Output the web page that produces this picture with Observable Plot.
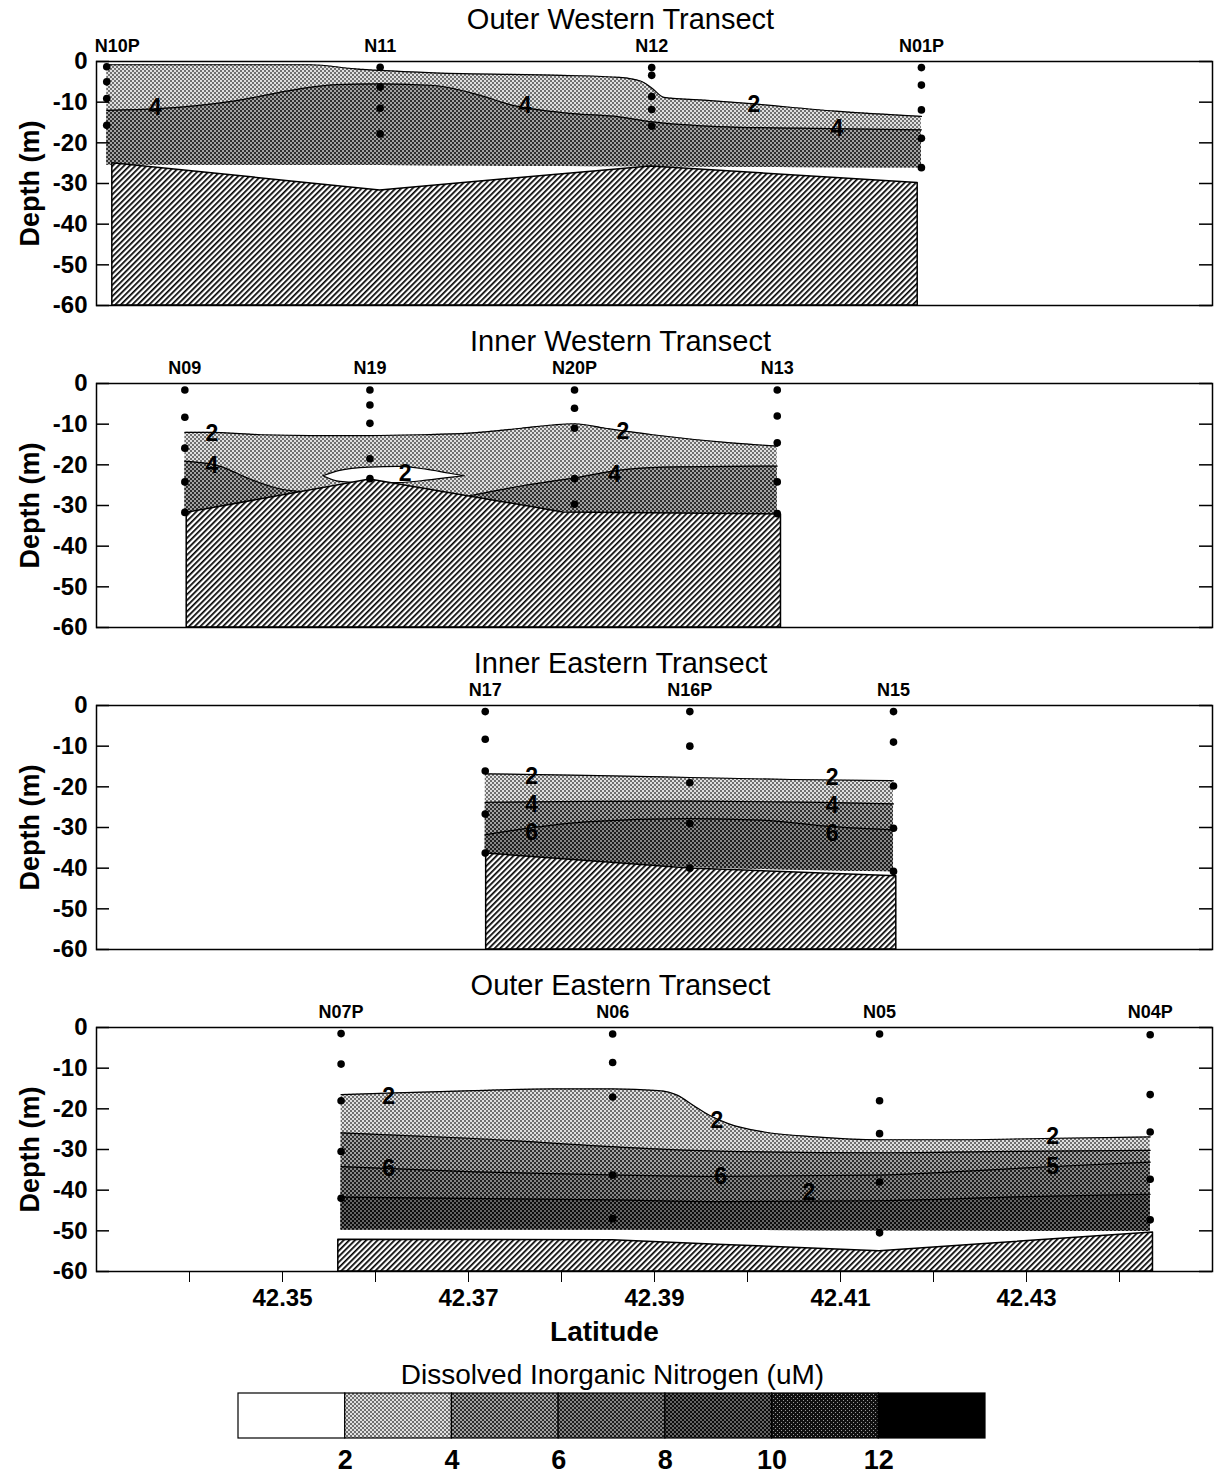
<!DOCTYPE html>
<html>
<head>
<meta charset="utf-8">
<script src="https://cdn.jsdelivr.net/npm/d3@7"></script>
<script src="https://cdn.jsdelivr.net/npm/@observablehq/plot@0.6"></script>
<style>
  body { margin: 0; background: #fff; font-family: "Liberation Sans", Arial, sans-serif; color: #000; }
  #fig { width: 1225px; }
  #fig svg { display: block; }
  .ttl { height: 34px; box-sizing: border-box; padding-top: 5px; padding-left: 16px;
         font-size: 29px; line-height: 29px; text-align: center; }
  .legend-ttl { height: 34px; box-sizing: border-box; padding-top: 10px; padding-left: 0;
         font-size: 28px; line-height: 28px; text-align: center; overflow: visible; }
</style>
</head>
<body>
<!-- halftone shades for the nitrogen classes and hatching for the seabed -->
<svg width="0" height="0" style="position:absolute">
  <defs>
    <pattern id="din0" width="4" height="4" patternUnits="userSpaceOnUse">
      <rect width="4" height="4" fill="#ffffff"/>
    </pattern>
    <pattern id="din2" width="4" height="4" patternUnits="userSpaceOnUse">
      <rect width="4" height="4" fill="#e0e0e0"/>
      <rect width="2" height="2" fill="#707070"/><rect x="2" y="2" width="2" height="2" fill="#707070"/>
    </pattern>
    <pattern id="din4" width="4" height="4" patternUnits="userSpaceOnUse">
      <rect width="4" height="4" fill="#a2a2a2"/>
      <rect width="2" height="2" fill="#2e2e2e"/><rect x="2" y="2" width="2" height="2" fill="#2e2e2e"/>
    </pattern>
    <pattern id="din6" width="4" height="4" patternUnits="userSpaceOnUse">
      <rect width="4" height="4" fill="#868686"/>
      <rect width="2" height="2" fill="#1e1e1e"/><rect x="2" y="2" width="2" height="2" fill="#1e1e1e"/>
    </pattern>
    <pattern id="din8" width="4" height="4" patternUnits="userSpaceOnUse">
      <rect width="4" height="4" fill="#646464"/>
      <rect width="2" height="2" fill="#0c0c0c"/><rect x="2" y="2" width="2" height="2" fill="#0c0c0c"/>
    </pattern>
    <pattern id="din10" width="4" height="4" patternUnits="userSpaceOnUse">
      <rect width="4" height="4" fill="#101010"/>
      <rect x="1" y="1" width="1" height="1" fill="#9a9a9a"/><rect x="3" y="3" width="1" height="1" fill="#9a9a9a"/>
    </pattern>
    <pattern id="din12" width="4" height="4" patternUnits="userSpaceOnUse">
      <rect width="4" height="4" fill="#000000"/>
    </pattern>
    <pattern id="seabed" width="4" height="4" patternUnits="userSpaceOnUse" patternTransform="rotate(45)">
      <rect width="4" height="4" fill="#ffffff"/>
      <rect width="1.7" height="4" fill="#000000"/>
    </pattern>
  </defs>
</svg>

<div id="fig"></div>

<script>
// ---- axes ----
const depthTicks = [0, -10, -20, -30, -40, -50, -60];
const latTicks = [42.34, 42.35, 42.36, 42.37, 42.38, 42.39, 42.40, 42.41, 42.42, 42.43, 42.44];
const latTickLabels = [42.35, 42.37, 42.39, 42.41, 42.43];

// ---- dissolved inorganic nitrogen classes (uM) ----
const dinClassLow = [0, 2, 4, 6, 8, 10, 12];
const dinClassHigh = [2, 4, 6, 8, 10, 12, 14];
const dinLegendTicks = [2, 4, 6, 8, 10, 12];

// ---- Outer Western Transect ----
const owStations = ["N10P", "N11", "N12", "N01P"];
const owLat = [42.3311, 42.3605, 42.3897, 42.4187];
const owSamples = [
  [-1.3, -5.0, -9.1, -15.7],
  [-1.4, -6.3, -11.5, -17.8],
  [-1.5, -3.4, -8.6, -11.8, -15.9],
  [-1.5, -5.8, -11.9, -18.9, -26.1]
];
// [latitude, upper isoline depth, lower limit depth]
const owBand2 = [
  [42.3311, -0.8, -25.5], [42.3530, -0.8, -25.6], [42.3578, -1.8, -25.6], [42.3605, -2.2, -25.6],
  [42.3663, -2.8, -25.7], [42.3800, -3.4, -25.8], [42.3862, -3.9, -25.9], [42.3885, -4.8, -25.9],
  [42.3897, -6.5, -25.9], [42.3910, -8.8, -26.0], [42.3960, -9.6, -26.0], [42.4000, -10.3, -26.0],
  [42.4094, -12.2, -26.1], [42.4187, -13.5, -26.2]
];
const owBand4 = [
  [42.3311, -12.0, -25.5], [42.3366, -11.6, -25.5], [42.3451, -9.6, -25.6], [42.3514, -6.9, -25.6],
  [42.3557, -5.7, -25.6], [42.3605, -5.5, -25.6], [42.3663, -5.9, -25.7], [42.3706, -7.9, -25.7],
  [42.3748, -10.8, -25.8], [42.3812, -12.8, -25.8], [42.3862, -13.6, -25.9], [42.3896, -14.8, -25.9],
  [42.3968, -16.0, -26.0], [42.4052, -16.4, -26.1], [42.4187, -16.8, -26.2]
];
const owSeabed = [[42.3317, -25.0], [42.3605, -31.7], [42.3896, -25.8], [42.4183, -29.9]];
const owLabels = [[42.3363, -11.3, "4"], [42.3761, -10.9, "4"], [42.4007, -10.6, "2"], [42.4096, -16.4, "4"]];

// ---- Inner Western Transect ----
const iwStations = ["N09", "N19", "N20P", "N13"];
const iwLat = [42.3395, 42.3594, 42.3814, 42.4032];
const iwSamples = [
  [-1.6, -8.3, -15.9, -24.2, -31.7],
  [-1.6, -5.3, -9.8, -18.5, -23.4],
  [-1.6, -6.1, -11.0, -23.4, -29.7],
  [-1.6, -8.0, -14.6, -24.2, -32.0]
];
const iwBand2 = [
  [42.3395, -12.0, -31.7], [42.3421, -12.0, -30.7], [42.3477, -12.6, -28.4], [42.3530, -12.8, -26.2],
  [42.3594, -12.8, -23.6], [42.3650, -12.6, -25.8], [42.3701, -12.2, -27.8], [42.3757, -11.0, -29.9],
  [42.3791, -10.2, -31.3], [42.3814, -9.9, -31.7], [42.3847, -11.0, -31.8], [42.3898, -12.6, -31.9],
  [42.3982, -14.6, -32.1], [42.4032, -15.4, -32.2]
];
const iwBand4West = [
  [42.3395, -19.1, -31.7], [42.3432, -20.3, -30.3], [42.3466, -23.6, -28.9], [42.3499, -26.0, -27.6],
  [42.3524, -26.6, -26.7]
];
const iwBand4East = [
  [42.3701, -27.6, -27.8], [42.3757, -25.2, -29.9], [42.3814, -23.2, -31.7], [42.3870, -21.1, -31.8],
  [42.3926, -20.5, -32.0], [42.4032, -20.3, -32.2]
];
// pocket below 2 uM near N19
const iwPocket = [
  [42.3544, -22.8, -22.8], [42.3562, -21.5, -24.2], [42.3594, -20.7, -24.6], [42.3625, -20.5, -24.5],
  [42.3655, -21.2, -23.9], [42.3680, -22.2, -23.2], [42.3696, -22.8, -22.8]
];
const iwSeabed = [[42.3397, -31.8], [42.3594, -23.6], [42.3802, -31.7], [42.4036, -32.2]];
const iwLabels = [[42.3424, -12.4, "2"], [42.3424, -20.3, "4"], [42.3632, -22.1, "2"], [42.3866, -11.8, "2"], [42.3857, -22.4, "4"]];

// ---- Inner Eastern Transect ----
const ieStations = ["N17", "N16P", "N15"];
const ieLat = [42.3718, 42.3938, 42.4157];
const ieSamples = [
  [-1.5, -8.3, -16.1, -26.7, -36.3],
  [-1.5, -10.0, -19.0, -29.0, -40.0],
  [-1.5, -9.0, -19.8, -30.2, -40.8]
];
const ieBand2 = [
  [42.3718, -16.8, -36.3], [42.3826, -17.2, -38.2], [42.3938, -17.7, -39.8], [42.4047, -18.2, -40.4],
  [42.4157, -18.5, -40.9]
];
const ieBand4 = [
  [42.3718, -23.8, -36.3], [42.3826, -23.6, -38.2], [42.3938, -23.5, -39.8], [42.4078, -23.8, -40.6],
  [42.4157, -24.2, -40.9]
];
const ieBand6 = [
  [42.3718, -31.8, -36.3], [42.3763, -30.2, -37.1], [42.3826, -28.6, -38.2], [42.3938, -27.8, -39.8],
  [42.4015, -28.2, -40.3], [42.4091, -29.8, -40.7], [42.4157, -30.6, -40.9]
];
const ieSeabed = [[42.3719, -36.4], [42.3938, -40.1], [42.4160, -42.0]];
const ieLabels = [[42.3768, -17.5, "2"], [42.3768, -24.3, "4"], [42.3768, -31.3, "6"],
                  [42.4091, -17.8, "2"], [42.4091, -24.6, "4"], [42.4091, -31.4, "6"]];

// ---- Outer Eastern Transect ----
const oeStations = ["N07P", "N06", "N05", "N04P"];
const oeLat = [42.3563, 42.3855, 42.4142, 42.4433];
const oeSamples = [
  [-1.5, -9.0, -18.0, -30.5, -42.0],
  [-1.6, -8.6, -17.1, -36.3, -47.0],
  [-1.6, -18.0, -26.1, -38.0, -50.5],
  [-1.8, -16.5, -25.7, -37.3, -47.3]
];
const oeBand2 = [
  [42.3563, -16.5, -49.8], [42.3621, -16.1, -49.8], [42.3706, -15.5, -49.8], [42.3790, -15.1, -49.8],
  [42.3855, -15.1, -49.8], [42.3904, -15.5, -49.8], [42.3925, -16.7, -49.8], [42.3942, -19.2, -49.8],
  [42.3959, -21.6, -49.8], [42.3980, -23.7, -49.9], [42.4018, -25.7, -49.9], [42.4073, -26.9, -49.9],
  [42.4142, -27.6, -50.0], [42.4221, -27.6, -50.0], [42.4318, -27.3, -50.1], [42.4433, -26.9, -50.1]
];
const oeBand4 = [
  [42.3563, -25.9, -49.8], [42.3706, -27.3, -49.8], [42.3862, -29.4, -49.8], [42.3968, -30.4, -49.9],
  [42.4142, -30.8, -50.0], [42.4263, -30.5, -50.0], [42.4433, -30.2, -50.1]
];
const oeBand6 = [
  [42.3563, -34.2, -49.8], [42.3706, -35.5, -49.8], [42.3862, -36.3, -49.8], [42.3968, -36.6, -49.9],
  [42.4142, -36.3, -50.0], [42.4221, -35.5, -50.0], [42.4318, -34.3, -50.1], [42.4433, -33.1, -50.1]
];
const oeBand8 = [
  [42.3563, -41.7, -49.8], [42.3855, -42.4, -49.8], [42.3968, -42.8, -49.9], [42.4142, -42.6, -50.0],
  [42.4300, -41.6, -50.1], [42.4433, -41.0, -50.1]
];
const oeSeabed = [[42.3560, -52.2], [42.3855, -52.3], [42.3968, -53.4], [42.4142, -55.0], [42.4263, -53.1], [42.4436, -50.4]];
const oeLabels = [[42.3614, -16.9, "2"], [42.3614, -34.6, "6"], [42.3967, -22.9, "2"], [42.3971, -36.6, "6"],
                  [42.4066, -40.5, "2"], [42.4328, -26.8, "2"], [42.4328, -34.2, "5"]];

// ---- layout ----
const W = 1225, ML = 96, MR = 13, MT = 27, FRAME_H = 244;
const FRAME_W = W - ML - MR;
const LAT_DOMAIN = [42.33, 42.45];
const FONT = "'Liberation Sans', Arial, sans-serif";
const fig = document.getElementById("fig");

function transect({title, stations, lats, samples, bands, pockets = [], seabed, labels, showX = false}) {
  const t = document.createElement("div");
  t.className = "ttl";
  t.textContent = title;
  fig.appendChild(t);

  const stationRows = stations.map((name, i) => ({name, lat: lats[i]}));
  // a station right at the western edge gets its name pushed inside the frame
  const nearEdge = d => d.lat - LAT_DOMAIN[0] < 0.002;
  const sampleRows = samples.flatMap((depths, i) => depths.map(depth => ({lat: lats[i], depth})));

  const marks = [];
  // concentration classes, painted shallow isoline first
  for (const b of bands) {
    marks.push(Plot.areaY(b.rows, {x: d => d[0], y1: d => d[1], y2: d => d[2],
      fill: `url(#din${b.level})`, curve: "monotone-x"}));
    marks.push(Plot.line(b.rows, {x: d => d[0], y: d => d[1], stroke: "black", strokeWidth: 1.2, curve: "monotone-x"}));
  }
  for (const p of pockets) {
    marks.push(Plot.areaY(p, {x: d => d[0], y1: d => d[1], y2: d => d[2], fill: "white",
      stroke: "black", strokeWidth: 1.2, curve: "monotone-x"}));
  }
  // seabed
  marks.push(Plot.areaY(seabed, {x: d => d[0], y1: d => d[1], y2: () => -60,
    fill: "url(#seabed)", stroke: "black", strokeWidth: 1.5}));
  // frame and inward ticks on both sides
  marks.push(Plot.frame({stroke: "black", strokeWidth: 1.5}));
  marks.push(Plot.tickY(depthTicks, {y: d => d, stroke: "black", strokeWidth: 1.5, insetRight: FRAME_W - 13}));
  marks.push(Plot.tickY(depthTicks, {y: d => d, stroke: "black", strokeWidth: 1.5, insetLeft: FRAME_W - 13}));
  // sampling depths
  marks.push(Plot.dot(sampleRows, {x: "lat", y: "depth", r: 3.8, fill: "black", stroke: "none"}));
  // isoline labels
  marks.push(Plot.text(labels, {x: d => d[0], y: d => d[1], text: d => d[2], fontSize: 23, fontWeight: "bold"}));
  // station names
  marks.push(Plot.text(stationRows.filter(d => !nearEdge(d)), {x: "lat", text: "name", frameAnchor: "top",
    lineAnchor: "middle", dy: -15, fontSize: 18, fontWeight: "bold"}));
  marks.push(Plot.text(stationRows.filter(nearEdge), {x: "lat", text: "name", frameAnchor: "top",
    lineAnchor: "middle", textAnchor: "start", dx: -12, dy: -15, fontSize: 18, fontWeight: "bold"}));
  // depth axis title
  marks.push(Plot.text(["Depth (m)"], {frameAnchor: "left", textAnchor: "middle", lineAnchor: "middle",
    rotate: -90, dx: -66, fontSize: 27, fontWeight: "bold"}));
  if (showX) {
    marks.push(Plot.text(["Latitude"], {frameAnchor: "bottom", textAnchor: "middle", lineAnchor: "middle",
      dx: -50, dy: 61, fontSize: 28, fontWeight: "bold"}));
  }

  const svg = Plot.plot({
    width: W,
    height: MT + FRAME_H + (showX ? 80 : 17),
    marginLeft: ML, marginRight: MR, marginTop: MT, marginBottom: showX ? 80 : 17,
    style: {fontFamily: FONT, fontSize: "24px", fontWeight: "bold", color: "black", background: "white", overflow: "visible"},
    x: showX
      ? {domain: LAT_DOMAIN, ticks: latTicks, tickSize: 11, tickPadding: 6, label: null,
         tickFormat: d => latTickLabels.some(v => Math.abs(v - d) < 1e-6) ? d.toFixed(2) : ""}
      : {domain: LAT_DOMAIN, axis: null},
    y: {domain: [-60, 0], ticks: depthTicks, tickSize: 0, tickPadding: 9, label: null, tickFormat: d => String(d)},
    marks
  });
  fig.appendChild(svg);
}

transect({
  title: "Outer Western Transect", stations: owStations, lats: owLat, samples: owSamples,
  bands: [{level: 2, rows: owBand2}, {level: 4, rows: owBand4}],
  seabed: owSeabed, labels: owLabels
});
transect({
  title: "Inner Western Transect", stations: iwStations, lats: iwLat, samples: iwSamples,
  bands: [{level: 2, rows: iwBand2}, {level: 4, rows: iwBand4West}, {level: 4, rows: iwBand4East}],
  pockets: [iwPocket], seabed: iwSeabed, labels: iwLabels
});
transect({
  title: "Inner Eastern Transect", stations: ieStations, lats: ieLat, samples: ieSamples,
  bands: [{level: 2, rows: ieBand2}, {level: 4, rows: ieBand4}, {level: 6, rows: ieBand6}],
  seabed: ieSeabed, labels: ieLabels
});
transect({
  title: "Outer Eastern Transect", stations: oeStations, lats: oeLat, samples: oeSamples,
  bands: [{level: 2, rows: oeBand2}, {level: 4, rows: oeBand4}, {level: 6, rows: oeBand6}, {level: 8, rows: oeBand8}],
  seabed: oeSeabed, labels: oeLabels, showX: true
});

// ---- colour key ----
const lt = document.createElement("div");
lt.className = "legend-ttl";
lt.textContent = "Dissolved Inorganic Nitrogen (uM)";
fig.appendChild(lt);

const classes = dinClassLow.map((lo, i) => ({lo, hi: dinClassHigh[i]}));
fig.appendChild(Plot.plot({
  width: W, height: 93,
  marginLeft: 238, marginRight: 240, marginTop: 8, marginBottom: 40,
  style: {fontFamily: FONT, fontSize: "27px", fontWeight: "bold", color: "black", background: "white"},
  x: {domain: [0, 14], ticks: dinLegendTicks, tickSize: 0, tickPadding: 11, label: null, tickFormat: d => String(d)},
  y: {axis: null},
  marks: classes.map(c => Plot.rect([c], {x1: "lo", x2: "hi", fill: `url(#din${c.lo})`, stroke: "black", strokeWidth: 1.2}))
}));
</script>
</body>
</html>
